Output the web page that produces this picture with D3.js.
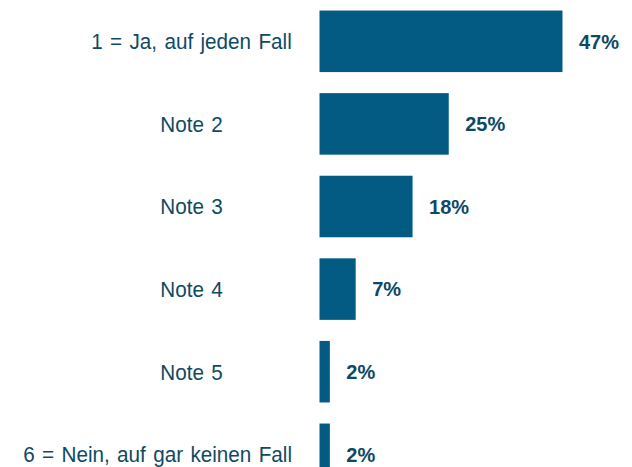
<!DOCTYPE html>
<html>
<head>
<meta charset="utf-8">
<script src="https://cdn.jsdelivr.net/npm/d3@7"></script>
<style>
  html, body { margin: 0; padding: 0; background: #fff; }
  svg { display: block; font-family: "Liberation Sans", Arial, sans-serif; }
</style>
</head>
<body>
<div id="chart"></div>
<script>
const categories = [
  '1 = Ja, auf jeden Fall',
  'Note 2',
  'Note 3',
  'Note 4',
  'Note 5',
  '6 = Nein, auf gar keinen Fall'
];
const values = [47, 25, 18, 7, 2, 2];

const width = 632;
const height = 467;

const svg = d3.select('#chart')
  .append('svg')
  .attr('width', width)
  .attr('height', height);

const xScale = d3.scaleLinear()
  .domain([0, 100])
  .range([319.5, 319.5 + 517]);

const yScale = d3.scaleBand()
  .domain(categories)
  .range([0, 495.6])
  .paddingInner(0.255)
  .paddingOuter(0.1275);

const data = categories.map((c, i) => ({ cat: c, value: values[i] }));

// bars
svg.selectAll('rect.bar')
  .data(data)
  .enter()
  .append('rect')
  .attr('class', 'bar')
  .attr('x', xScale(0))
  .attr('y', d => yScale(d.cat))
  .attr('width', d => xScale(d.value) - xScale(0))
  .attr('height', yScale.bandwidth())
  .attr('fill', '#035b83');

// value labels
svg.selectAll('text.val')
  .data(data)
  .enter()
  .append('text')
  .attr('class', 'val')
  .attr('x', d => xScale(d.value) + 16.5)
  .attr('y', d => yScale(d.cat) + yScale.bandwidth() / 2)
  .attr('dy', '0.36em')
  .attr('font-size', 20)
  .attr('font-weight', 'bold')
  .attr('fill', '#0d4965')
  .text(d => d.value + '%');

// category labels, centred on a column but kept clear of the bars
const labelCenter = 191.5;
const labelRight = 292;
const squeeze = 0.94;
svg.selectAll('text.cat')
  .data(data)
  .enter()
  .append('text')
  .attr('class', 'cat')
  .attr('dy', '0.36em')
  .attr('font-size', 22)
  .attr('word-spacing', 1.7)
  .attr('fill', '#0f4a63')
  .attr('text-anchor', 'middle')
  .text(d => d.cat)
  .each(function(d) {
    const w = this.getComputedTextLength() * squeeze;
    const y = yScale(d.cat) + yScale.bandwidth() / 2;
    let x = labelCenter;
    if (labelCenter + w / 2 > labelRight) {
      d3.select(this).attr('text-anchor', 'end');
      x = labelRight;
    }
    d3.select(this).attr('transform', `translate(${x},${y}) scale(${squeeze},1)`);
  });
</script>
</body>
</html>
